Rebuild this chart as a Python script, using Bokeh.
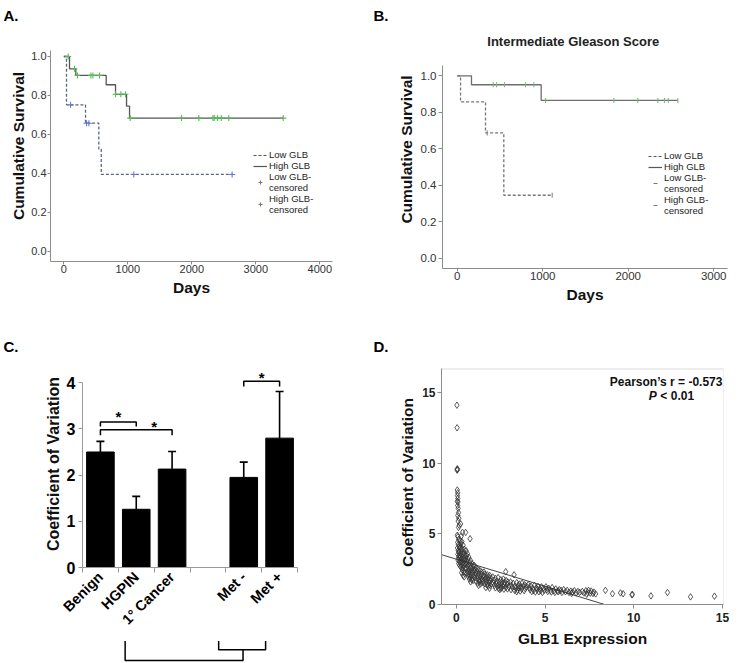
import math
from bokeh.plotting import figure
from bokeh.models import (Range1d, FixedTicker, Legend, LegendItem, Label,
                          Whisker, TeeHead, ColumnDataSource, PrintfTickFormatter,
                          BoxAnnotation, Spacer)
from bokeh.layouts import row, column
from bokeh.embed import file_html
from bokeh.resources import INLINE
from bokeh.core.properties import value

FONT = "Liberation Sans"
NAN = float("nan")

# ---------------- data ----------------
# Panel A: Kaplan-Meier, all patients
a_low_t = [0, 42, 339, 547, 585, 2630]
a_low_s = [1.0, 0.752, 0.658, 0.525, 0.395, 0.395]
a_low_cens = [105, 355, 391, 1094, 2630]
a_high_t = [0, 89, 188, 662, 808, 980, 1027, 3430]
a_high_s = [1.0, 0.937, 0.903, 0.855, 0.806, 0.745, 0.684, 0.684]
a_high_cens = [68, 167, 214, 423, 454, 558, 808, 891, 964, 1037, 1839, 2110,
               2330, 2350, 2402, 2460, 2578, 3428]
a_xticks = [0, 1000, 2000, 3000, 4000]
surv_ticks = [0.0, 0.2, 0.4, 0.6, 0.8, 1.0]

# Panel B: intermediate Gleason score
b_low_t = [0, 39, 331, 545, 1111]
b_low_s = [1.0, 0.857, 0.687, 0.345, 0.345]
b_low_cens = [351, 1111]
b_high_t = [0, 167, 982, 2580]
b_high_s = [1.0, 0.951, 0.865, 0.865]
b_high_cens = [421, 460, 553, 799, 896, 1033, 1832, 2112, 2346, 2424, 2468, 2580]
b_xticks = [0, 1000, 2000, 3000]
b_title = "Intermediate Gleason Score"

# Panel C: bar chart
c_labels = ["Benign", "HGPIN", "1° Cancer", "Met -", "Met +"]
c_pos = [1, 2, 3, 5, 6]
c_vals = [2.50, 1.26, 2.13, 1.95, 2.80]
c_upper = [2.73, 1.54, 2.51, 2.28, 3.81]
c_yticks = [0, 1, 2, 3, 4]
c_brk_x = [[1, 1, 2, 2], [1, 1, 3, 3], [5, 5, 6, 6]]
c_brk_y = [[3.05, 3.15, 3.15, 3.05], [2.86, 2.98, 2.98, 2.86], [3.92, 4.03, 4.03, 3.92]]
c_star_x = [1.5, 2.5, 5.5]
c_star_y = [3.26, 3.06, 4.12]
c_link_x = [[1.69, 1.69, 4.98, 4.98], [4.30, 4.30, 5.61, 5.61]]
c_link_y = [[0.98, 0.13, 0.13, 0.6], [0.98, 0.6, 0.6, 0.98]]

# Panel D: scatter GLB1 expression vs coefficient of variation
d_pts = [
    (0.03, 14.1), (0.04, 12.5), (0.05, 9.6), (0.06, 9.55), (0.04, 9.5), (0.05, 8.1),
    (0.07, 7.9), (0.06, 7.7), (0.08, 7.5), (0.05, 7.3), (0.09, 7.25), (0.07, 7.0),
    (0.1, 6.8), (0.12, 6.5), (0.08, 6.3), (0.14, 6.1), (0.1, 5.9), (0.16, 5.6),
    (0.12, 5.45), (0.05, 4.9), (0.09, 4.8), (0.13, 4.6), (0.07, 4.4), (0.11, 4.25),
    (0.15, 4.1), (0.06, 4.0), (0.18, 3.95), (0.1, 3.8), (0.14, 3.7), (0.08, 3.55),
    (0.17, 3.5), (0.12, 3.35), (0.2, 3.3), (0.09, 3.15), (0.16, 3.05), (0.13, 2.9),
    (0.19, 2.75),
    (0.24, 5.7), (0.34, 5.1), (0.28, 4.85), (0.22, 4.5), (0.31, 4.45), (0.26, 4.3),
    (0.38, 4.2), (0.23, 4.05), (0.33, 3.95), (0.45, 3.9), (0.29, 3.8), (0.41, 3.7),
    (0.25, 3.6), (0.36, 3.55), (0.48, 3.5), (0.22, 3.4), (0.32, 3.35), (0.43, 3.3),
    (0.27, 3.2), (0.39, 3.15), (0.47, 3.1), (0.24, 3.0), (0.35, 2.95), (0.44, 2.9),
    (0.3, 2.8), (0.4, 2.75), (0.26, 2.65), (0.37, 2.6), (0.49, 2.55), (0.33, 2.45),
    (0.42, 2.35), (0.29, 2.25), (0.46, 2.2), (0.38, 2.05), (0.44, 1.95),
    (0.52, 5.1), (0.77, 4.65), (0.55, 3.8), (0.62, 3.6), (0.58, 3.45), (0.7, 3.35),
    (0.53, 3.25), (0.66, 3.2), (0.8, 3.1), (0.6, 3.0), (0.74, 2.95), (0.88, 2.9),
    (0.56, 2.85), (0.68, 2.8), (0.95, 2.75), (0.63, 2.7), (0.79, 2.65), (0.9, 2.6),
    (0.58, 2.55), (0.72, 2.5), (0.85, 2.45), (0.98, 2.4), (0.65, 2.35), (0.76, 2.3),
    (0.92, 2.25), (0.6, 2.2), (0.7, 2.15), (0.83, 2.1), (0.97, 2.05), (0.67, 2.0),
    (0.78, 1.95), (0.89, 1.9), (0.73, 1.8), (0.86, 1.75), (0.94, 1.7), (0.8, 1.6),
    (1.02, 2.75), (1.1, 2.6), (1.2, 2.5), (1.05, 2.45), (1.32, 2.4), (1.15, 2.35),
    (1.42, 2.3), (1.08, 2.25), (1.26, 2.2), (1.38, 2.15), (1.12, 2.1), (1.48, 2.05),
    (1.22, 2.0), (1.35, 1.95), (1.04, 1.9), (1.18, 1.85), (1.45, 1.8), (1.28, 1.75),
    (1.4, 1.7), (1.1, 1.65), (1.3, 1.6), (1.47, 1.55), (1.2, 1.5), (1.36, 1.45),
    (1.25, 1.35),
    (1.55, 2.3), (1.62, 2.15), (1.75, 2.1), (1.88, 2.05), (1.58, 2.0), (1.7, 1.95),
    (1.82, 1.9), (1.95, 1.85), (1.65, 1.8), (1.78, 1.75), (1.9, 1.7), (1.52, 1.65),
    (1.68, 1.6), (1.85, 1.55), (1.98, 1.5), (1.6, 1.45), (1.72, 1.4), (1.92, 1.35),
    (1.8, 1.3), (1.66, 1.2), (1.87, 1.15),
    (2.05, 1.95), (2.2, 1.85), (2.35, 1.9), (2.5, 1.75), (2.65, 1.8), (2.8, 1.7),
    (2.12, 1.7), (2.28, 1.65), (2.42, 1.6), (2.58, 1.62), (2.72, 1.55), (2.9, 1.6),
    (2.08, 1.5), (2.25, 1.45), (2.4, 1.4), (2.55, 1.45), (2.7, 1.38), (2.85, 1.42),
    (2.15, 1.35), (2.32, 1.3), (2.48, 1.25), (2.62, 1.3), (2.78, 1.22), (2.95, 1.25),
    (2.2, 1.18), (2.38, 1.12), (2.52, 1.15), (2.68, 1.08), (2.88, 1.1), (2.45, 1.05),
    (2.78, 2.32),
    (3.25, 2.1), (3.05, 1.6), (3.2, 1.5), (3.4, 1.55), (3.55, 1.45), (3.7, 1.5),
    (3.85, 1.4), (3.1, 1.35), (3.3, 1.3), (3.48, 1.35), (3.62, 1.25), (3.78, 1.3),
    (3.95, 1.28), (3.15, 1.2), (3.35, 1.15), (3.52, 1.18), (3.68, 1.1), (3.88, 1.12),
    (3.08, 1.05), (3.28, 1.0), (3.45, 1.02), (3.6, 0.95), (3.82, 0.98), (3.4, 0.9),
    (4.05, 1.4), (4.2, 1.3), (4.4, 1.35), (4.6, 1.28), (4.8, 1.25), (4.1, 1.2),
    (4.3, 1.15), (4.5, 1.18), (4.7, 1.12), (4.9, 1.15), (4.15, 1.05), (4.35, 1.0),
    (4.55, 1.05), (4.75, 0.98), (4.95, 1.0), (4.25, 0.92), (4.45, 0.88), (4.65, 0.9),
    (4.85, 0.85),
    (5.05, 1.25), (5.2, 1.15), (5.4, 1.2), (5.6, 1.1), (5.8, 1.05), (5.1, 1.05),
    (5.3, 1.0), (5.5, 0.98), (5.7, 0.95), (5.9, 1.0), (5.15, 0.92), (5.35, 0.88),
    (5.55, 0.85), (5.75, 0.9), (5.95, 0.85),
    (6.05, 1.05), (6.25, 1.0), (6.45, 0.95), (6.65, 0.98), (6.85, 0.92), (6.15, 0.9),
    (6.35, 0.85), (6.55, 0.88), (6.75, 0.82), (6.95, 0.86), (6.5, 0.78),
    (7.1, 0.92), (7.3, 0.98), (7.45, 1.0), (7.6, 0.95), (7.75, 0.88), (7.2, 0.82),
    (7.4, 0.85), (7.55, 0.8), (7.7, 0.78), (7.85, 0.75), (7.35, 0.72),
    (8.4, 1.0), (8.8, 0.76), (9.25, 0.82), (9.4, 0.76), (9.92, 0.72), (9.9, 0.68),
    (10.97, 0.61), (11.9, 0.85), (13.2, 0.54), (14.55, 0.59),
]
d_x = [p[0] for p in d_pts]
d_y = [p[1] for p in d_pts]
d_fit_x = [-0.85, 8.36]
d_fit_y = [3.53, 0.0]
d_ticks = [0, 5, 10, 15]
d_box = dict(left=-0.84, right=15.06, bottom=0.0, top=16.66)


# ---------------- helpers ----------------
def surv_at(times, surv, t):
    s = surv[0]
    for ti, si in zip(times, surv):
        if ti <= t:
            s = si
    return s


def base_fig(width, height, xr, yr, mbl, mbr, mbt, mbb, title=None):
    p = figure(width=width, height=height, x_range=xr, y_range=yr,
               output_backend="svg", toolbar_location=None, title=title,
               min_border_left=mbl, min_border_right=mbr,
               min_border_top=mbt, min_border_bottom=mbb)
    p.grid.visible = False
    p.outline_line_color = None
    p.background_fill_color = "white"
    p.border_fill_color = "white"
    return p


def style_axis(ax, size, color, bold, lab_size, axis_color="#8c8c8c",
               label_standoff=3, axis_label_standoff=4, tick_out=4):
    ax.axis_line_color = axis_color
    ax.major_tick_line_color = axis_color
    ax.major_tick_out = tick_out
    ax.major_tick_in = 0
    ax.minor_tick_line_color = None
    ax.major_label_text_font = FONT
    ax.major_label_text_font_size = size
    ax.major_label_text_color = color
    ax.major_label_text_font_style = "bold" if bold else "normal"
    ax.major_label_standoff = label_standoff
    ax.axis_label_text_font = FONT
    ax.axis_label_text_font_size = lab_size
    ax.axis_label_text_font_style = "bold"
    ax.axis_label_text_color = "#111111"
    ax.axis_label_standoff = axis_label_standoff


def letter_title(t, text, offset, valign):
    t.text = text
    t.align = "left"
    t.offset = offset
    t.vertical_align = valign
    t.text_font = FONT
    t.text_font_size = "15px"
    t.text_font_style = "bold"
    t.text_color = "black"


def km_panel(p, low_t, low_s, low_c, high_t, high_s, high_c, low_col, low_cens_col,
             high_col, high_cens_col, cens_marker, cens_size, leg_loc):
    p.step(high_t, high_s, mode="after", line_color=high_col, line_width=1.3)
    p.step(low_t, low_s, mode="after", line_color=low_col, line_width=1.3,
           line_dash="3 2")
    hc_y = [surv_at(high_t, high_s, t) for t in high_c]
    lc_y = [surv_at(low_t, low_s, t) for t in low_c]
    ang = math.pi / 2 if cens_marker == "dash" else 0
    p.scatter(high_c, hc_y, marker=cens_marker, size=cens_size, angle=ang,
              line_color=high_cens_col, line_width=1.1)
    p.scatter(low_c, lc_y, marker=cens_marker, size=cens_size, angle=ang,
              line_color=low_cens_col, line_width=1.1)
    # legend proxies (no visible data)
    r1 = p.line([NAN], [NAN], line_color="#555555", line_dash="3 2", line_width=1.2)
    r2 = p.line([NAN], [NAN], line_color="#555555", line_width=1.2)
    r3 = p.scatter([NAN], [NAN], marker=cens_marker, angle=ang, size=cens_size + 4,
                   line_color="#777777", line_width=1)
    r4 = p.scatter([NAN], [NAN], marker=cens_marker, angle=ang, size=cens_size + 4,
                   line_color="#777777", line_width=1)
    leg = Legend(items=[LegendItem(label="Low GLB", renderers=[r1]),
                        LegendItem(label="High GLB", renderers=[r2]),
                        LegendItem(label="Low GLB-\ncensored", renderers=[r3]),
                        LegendItem(label="High GLB-\ncensored", renderers=[r4])],
                 location=leg_loc, orientation="vertical", padding=0, margin=0,
                 spacing=0, border_line_color=None, background_fill_alpha=0,
                 label_text_font=FONT, label_text_font_size="9.5px",
                 label_text_color="#222222", label_height=10, glyph_height=10,
                 glyph_width=14, label_standoff=2, label_text_line_height=0.85)
    p.add_layout(leg)


# ---------------- Panel A ----------------
pa = base_fig(370, 313, Range1d(-208, 4198), Range1d(-0.0513, 1.1333), 50, 38, 30, 52,
              title="A.")
letter_title(pa.title, "A.", -47, "top")
km_panel(pa, a_low_t, a_low_s, a_low_cens, a_high_t, a_high_s, a_high_cens,
         "#5b6585", "#6677cc", "#555555", "#55bb55", "cross", 6, (203, 46))
pa.xaxis.ticker = FixedTicker(ticks=a_xticks)
pa.yaxis.ticker = FixedTicker(ticks=surv_ticks)
pa.yaxis.formatter = PrintfTickFormatter(format="%.1f")
style_axis(pa.xaxis, "11px", "#333333", False, "15.5px", label_standoff=0,
           axis_label_standoff=3, tick_out=3)
style_axis(pa.yaxis, "11px", "#333333", False, "15.5px", label_standoff=1,
           axis_label_standoff=1, tick_out=3)
pa.yaxis.bounds = (-0.0513, 1.03)
pa.xaxis.axis_label = "Days"
pa.yaxis.axis_label = "Cumulative Survival"

# ---------------- Panel B ----------------
pb = base_fig(370, 320, Range1d(-172, 3161), Range1d(-0.0565, 1.2484), 72, 13, 30, 52,
              title="B.")
letter_title(pb.title, "B.", -69, "top")
pb.add_layout(Label(x=1357, y=1.19, text=b_title, text_align="center",
                    text_baseline="middle", text_font=FONT, text_font_size="13px",
                    text_font_style="bold", text_color="#222222"))
km_panel(pb, b_low_t, b_low_s, b_low_cens, b_high_t, b_high_s, b_high_cens,
         "#777777", "#888888", "#6e6e6e", "#77bb77", "dash", 5, (206, 52))
pb.xaxis.ticker = FixedTicker(ticks=b_xticks)
pb.yaxis.ticker = FixedTicker(ticks=surv_ticks)
pb.yaxis.formatter = PrintfTickFormatter(format="%.1f")
style_axis(pb.xaxis, "11.5px", "#333333", False, "15.5px", label_standoff=0,
           axis_label_standoff=3, tick_out=3)
style_axis(pb.yaxis, "11.5px", "#333333", False, "15.5px", label_standoff=2,
           axis_label_standoff=3, tick_out=4)
pb.yaxis.bounds = (-0.0565, 1.056)
pb.xaxis.axis_label = "Days"
pb.yaxis.axis_label = "Cumulative Survival"

# ---------------- Panel C ----------------
pc = base_fig(370, 320, Range1d(0.5, 6.5), Range1d(0, 4.48), 82, 73, 40, 73,
              title="C.")
letter_title(pc.title, "C.", -79, "middle")
src_c = ColumnDataSource(dict(x=c_pos, top=c_vals, upper=c_upper))
pc.vbar(x="x", top="top", width=0.77, source=src_c, fill_color="black",
        line_color="black")
pc.add_layout(Whisker(base="x", lower="top", upper="upper", source=src_c,
                      line_color="black", line_width=1.6, lower_head=None,
                      upper_head=TeeHead(size=8, line_color="black", line_width=1.6),
                      level="overlay"))
pc.multi_line(c_brk_x, c_brk_y, line_color="black", line_width=1.5)
pc.text(c_star_x, c_star_y, text=["*"] * len(c_star_x), text_align="center",
        text_baseline="middle", text_font=value(FONT), text_font_size="15px",
        text_font_style="bold", text_color="black")
pc.xaxis.ticker = FixedTicker(ticks=c_pos,
                              minor_ticks=[0.5, 1.5, 2.5, 3.5, 4.5, 5.5, 6.5])
pc.xaxis.major_label_overrides = {p: l for p, l in zip(c_pos, c_labels)}
pc.yaxis.ticker = FixedTicker(ticks=c_yticks)
style_axis(pc.xaxis, "14.5px", "black", True, "16px", axis_color="#999999",
           label_standoff=2)
pc.xaxis.major_tick_out = 0
pc.xaxis.minor_tick_line_color = "#999999"
pc.xaxis.minor_tick_out = 5
pc.xaxis.minor_tick_in = 0
pc.xaxis.major_label_orientation = math.pi / 4
style_axis(pc.yaxis, "16px", "black", True, "16px", axis_color="#999999",
           label_standoff=3, axis_label_standoff=2)
pc.yaxis.bounds = (0, 4)
pc.yaxis.axis_label = "Coefficient of Variation"

pcb = base_fig(370, 23, pc.x_range, Range1d(0, 1), 82, 73, 0, 0)
pcb.axis.visible = False
pcb.multi_line(c_link_x, c_link_y, line_color="black", line_width=1.5)

# ---------------- Panel D ----------------
pd_ = base_fig(370, 343, Range1d(d_box["left"], d_box["right"]), Range1d(0, 17.26),
               71, 17, 40, 59, title="D.")
letter_title(pd_.title, "D.", -68, "middle")
pd_.add_layout(BoxAnnotation(left=d_box["left"], right=d_box["right"],
                             bottom=d_box["bottom"], top=d_box["top"],
                             fill_color=None, fill_alpha=0, line_color="#8c8c8c",
                             line_width=1))
pd_.line(d_fit_x, d_fit_y, line_color="#444444", line_width=1)
pd_.scatter(d_x, d_y, marker="diamond", size=6.5, fill_color=None,
            line_color="#333333", line_width=0.8)
pd_.xaxis.ticker = FixedTicker(ticks=d_ticks)
pd_.yaxis.ticker = FixedTicker(ticks=d_ticks)
style_axis(pd_.xaxis, "12px", "#222222", True, "15.5px", label_standoff=4,
           axis_label_standoff=5)
style_axis(pd_.yaxis, "12px", "#222222", True, "15.5px", label_standoff=2,
           axis_label_standoff=3)
pd_.yaxis.bounds = (d_box["bottom"], d_box["top"])
pd_.xaxis.axis_label = "GLB1 Expression"
pd_.yaxis.axis_label = "Coefficient of Variation"
pd_.add_layout(Label(x=15.0, y=15.73, text="Pearson’s r = -0.573", text_align="right",
                     text_baseline="middle", text_font=FONT, text_font_size="12px",
                     text_font_style="bold", text_color="#111111"))
pd_.add_layout(Label(x=10.85, y=14.78, text="P", text_align="left",
                     text_baseline="middle", text_font=FONT, text_font_size="12px",
                     text_font_style="bold italic", text_color="#111111"))
pd_.add_layout(Label(x=11.5, y=14.78, text="< 0.01", text_align="left",
                     text_baseline="middle", text_font=FONT, text_font_size="12px",
                     text_font_style="bold", text_color="#111111"))

layout = column(row(column(pa, Spacer(width=370, height=7)), pb),
                row(column(pc, pcb), pd_))

with open("out.html", "w") as f:
    f.write(file_html(layout, INLINE))
